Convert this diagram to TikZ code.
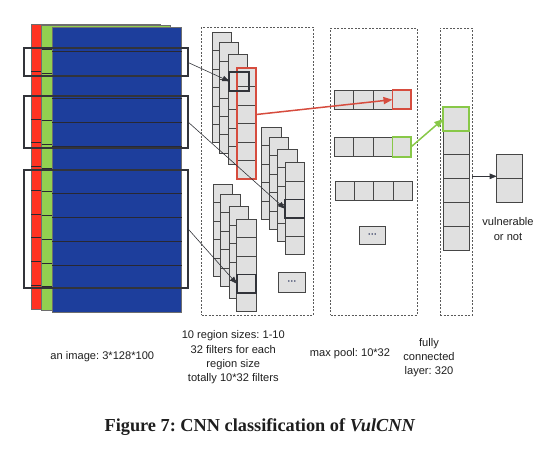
\documentclass[tikz,border=0pt]{standalone}
\usepackage{fontspec}
\setmainfont{Liberation Sans}
\newfontfamily\capfont{Liberation Serif}
\usetikzlibrary{arrows.meta}
\frenchspacing
\definecolor{lred}{RGB}{255,51,34}
\definecolor{lgreen}{RGB}{146,208,80}
\definecolor{lblue}{RGB}{29,62,156}
\definecolor{cellgray}{RGB}{224,224,224}
\definecolor{cellline}{RGB}{70,70,70}
\definecolor{hired}{RGB}{214,76,62}
\definecolor{higreen}{RGB}{136,200,72}
\definecolor{darkbox}{RGB}{50,52,58}
\definecolor{txt}{RGB}{30,30,30}
\definecolor{dotcol}{RGB}{40,50,90}
\tikzset{
  layer/.style={draw={rgb,255:red,110;green,110;blue,110}, line width=0.6pt},
  rowline/.style={draw={rgb,255:red,40;green,40;blue,50}, line width=0.6pt},
  cell/.style={fill=cellgray, draw=cellline, line width=0.7pt},
  hlbox/.style={draw=darkbox, line width=1.8pt},
  redbox/.style={draw=hired, line width=1.7pt},
  greenbox/.style={draw=higreen, line width=1.8pt},
  dashbox/.style={draw={rgb,255:red,90;green,90;blue,90}, line width=0.6pt, dash pattern=on 2pt off 1.5pt},
  thinarrow/.style={draw=darkbox, line width=0.6pt, -{Triangle[length=7pt,width=5.5pt]}},
  lbl/.style={font=\fontsize{11.1}{14.3}\selectfont, text=txt, align=center, inner sep=0pt},
  dotbox/.style={cell, anchor=north west, inner sep=0pt, font=\fontsize{9}{9}\selectfont\bfseries, text=dotcol},
}
\newcommand\bx[6]{\node[#1, anchor=north west, minimum width=#4pt, minimum height=#5pt, inner sep=0pt, outer sep=0pt] (#6) at (#2,#3) {};}
\newcommand\cellcolumn[3]{\foreach \i in {1,...,#3}{\draw[cell] (#1,{#2+(\i-1)*18.4}) rectangle ++(19.5,18.4);}}
\begin{document}
\begin{tikzpicture}[x=1pt,y=-1pt]
\useasboundingbox (0,0) rectangle (559,460);
% image layers
\fill[lred] (31,24) rectangle (160,309);
\draw[layer] (31,24) rectangle (160,309);
\foreach \k in {1,...,11}{\draw[rowline] (31,{24+\k*23.75}) -- (41.7,{24+\k*23.75});}
\fill[lgreen] (41.7,25.3) rectangle (170.7,310.3);
\draw[layer] (41.7,25.3) rectangle (170.7,310.3);
\foreach \k in {1,...,11}{\draw[rowline] (41.7,{25.3+\k*23.75}) -- (52.3,{25.3+\k*23.75});}
\fill[lblue] (52.3,27.3) rectangle (181.7,312.3);
\draw[layer] (52.3,27.3) rectangle (181.7,312.3);
\foreach \k in {1,...,11}{\draw[rowline] (52.3,{27.3+\k*23.75}) -- (181.7,{27.3+\k*23.75});}
% image highlight boxes
\bx{hlbox}{23.7}{48.3}{164}{28}{img1}
\bx{hlbox}{23.7}{95.7}{164}{52}{img2}
\bx{hlbox}{24.3}{170}{164}{118.3}{img3}
% dashed boxes
\bx{dashbox}{201.7}{27.3}{111.6}{287.7}{filters}
\bx{dashbox}{330.7}{28.3}{86.6}{286.7}{pool}
\bx{dashbox}{440}{28.3}{32.3}{286.7}{fcbox}
% filter group 1
\cellcolumn{212.3}{32.3}{6}
\cellcolumn{219.3}{42.7}{6}
\cellcolumn{228.3}{54.3}{6}
\cellcolumn{236.7}{68.3}{6}
\bx{redbox}{236.7}{68.3}{19.5}{110.4}{fcolA}
\bx{hlbox}{229.3}{71.7}{20}{19.3}{f1}
% filter group 2
\cellcolumn{261.7}{127.3}{5}
\cellcolumn{269}{137.3}{5}
\cellcolumn{277.7}{149.3}{5}
\cellcolumn{285}{162.7}{5}
\bx{hlbox}{285}{199.5}{19.5}{18.4}{f2}
% filter group 3
\cellcolumn{213.3}{184.3}{5}
\cellcolumn{220.7}{194.3}{5}
\cellcolumn{229.3}{206.7}{5}
\cellcolumn{236.7}{219.3}{5}
\bx{hlbox}{236.7}{274.5}{19.5}{18.4}{f3}
% dots box in filters
\node[dotbox, minimum width=26.7pt, minimum height=19.4pt] (fdots) at (278.3,272.3) {···};
% max pool rows
\foreach \c in {0,1,2}{\draw[cell] ({334+\c*19.5},90) rectangle ++(19.5,19.3);}
\bx{cell,redbox}{392.5}{90}{18.5}{19.3}{p1}
\foreach \c in {0,1,2}{\draw[cell] ({334+\c*19.5},137.3) rectangle ++(19.5,19.3);}
\bx{cell,greenbox}{392.5}{137.3}{18.5}{19.3}{p2}
\foreach \c in {0,1,2,3}{\draw[cell] ({335+\c*19.3},181.7) rectangle ++(19.3,18.3);}
\node[dotbox, minimum width=25.7pt, minimum height=18.3pt] (pdots) at (359.3,225.7) {···};
% fully connected column
\foreach \r in {1,...,5}{\draw[cell] (443.3,{130.7+(\r-1)*24}) rectangle ++(26,24);}
\bx{cell,greenbox}{443.3}{107.3}{26}{23.4}{fc1}
% output
\bx{cell}{496.7}{154.3}{26}{24.2}{outA}
\bx{cell}{496.7}{178.5}{26}{24.2}{outB}
% arrows
\draw[thinarrow] (img1.east) -- (f1.west);
\draw[thinarrow] (img2.east) -- (f2.west);
\draw[thinarrow] (img3.east) -- (f3.west);
\draw[draw=hired, line width=1.5pt, -{Triangle[length=9pt,width=7pt]}] ([yshift=9pt]fcolA.east) -- (p1.west);
\draw[draw=higreen, line width=1.5pt, -{Triangle[length=9pt,width=7pt]}] (p2.east) -- (fc1.west);
\coordinate (fcout) at (472.3,176.3);
\draw[thinarrow] (fcout) -- (fcout -| outA.west);
% labels
\node[lbl] (vul) at (508,229) {vulnerable\\or not};
\node[lbl] (limg) at (102.3,356.7) {an image: 3*128*100};
\node[lbl] (lfil) at (233.3,357.4) {10 region sizes: 1-10\\32 filters for each\\region size\\totally 10*32 filters};
\node[lbl] (lpool) at (350,353.3) {max pool: 10*32};
\node[lbl] (lfc) at (429,357.5) {fully\\connected\\layer: 320};
\node[inner sep=0pt, text=txt, font=\capfont\fontsize{18.3}{20}\selectfont\bfseries] (cap) at (260,426.7) {Figure 7: CNN classification of \textit{VulCNN}};
\end{tikzpicture}
\end{document}
